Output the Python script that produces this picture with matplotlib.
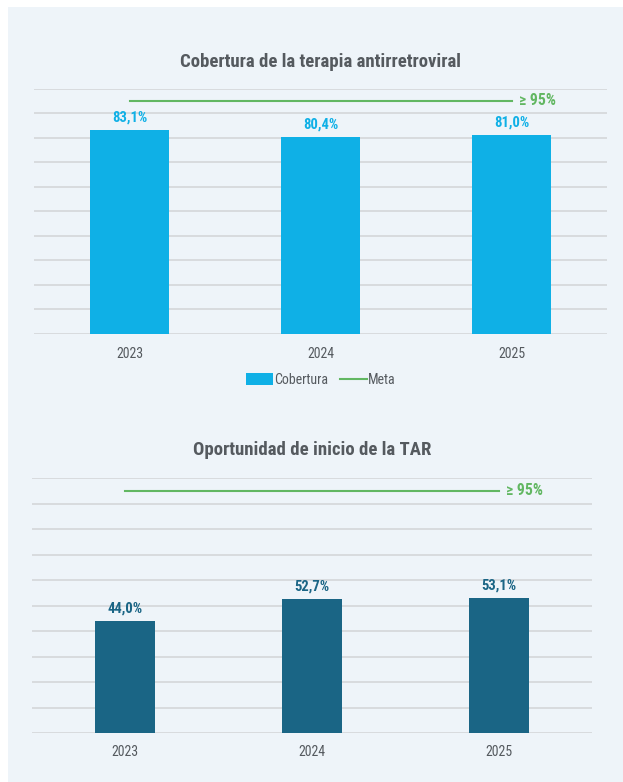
import matplotlib
matplotlib.use("Agg")
import matplotlib.pyplot as plt
from matplotlib import font_manager
from matplotlib.patches import Rectangle, Patch
from matplotlib.lines import Line2D

# data
years = ["2023", "2024", "2025"]
cobertura = [83.1, 80.4, 81.0]
oportunidad = [44.0, 52.7, 53.1]
meta = 95

title_top = "Cobertura de la terapia antirretroviral"
title_bottom = "Oportunidad de inicio de la TAR"

# colours
bg = "#eef4f9"
grid_c = "#d6d9dc"
cyan = "#0fb0e6"
dark = "#1a6585"
green = "#62b762"
text_c = "#555a5f"

# pick a condensed font if one is around
names = {f.name for f in font_manager.fontManager.ttflist}
cond = [n for n in ["Liberation Sans Narrow", "DejaVu Sans Condensed", "Roboto Condensed",
                    "Open Sans Condensed", "Noto Sans Condensed"] if n in names]
family = cond + ["Roboto", "DejaVu Sans"]
plt.rcParams["font.family"] = family

W, H = 623, 782
fig = plt.figure(figsize=(W / 100, H / 100), dpi=100)
fig.patch.set_facecolor("white")
fig.add_artist(Rectangle((8 / W, 0), 1, 1 - 7 / H, transform=fig.transFigure,
                         facecolor=bg, edgecolor="none", zorder=0))


def px_axes(left, right, top, bottom):
    return fig.add_axes([left / W, 1 - bottom / H, (right - left) / W, (bottom - top) / H])


def draw_chart(ax, values, color, label_color, width):
    ax.set_facecolor("none")
    x = range(len(years))
    ax.bar(x, values, width=width, color=color, zorder=3)
    ax.plot([0, len(years) - 1], [meta, meta], color=green, lw=1.5, zorder=3)
    ax.text(len(years) - 1 + 0.04, meta, f"\u2265 {meta}%", color=green, fontsize=11.3,
            fontweight="bold", va="center", ha="left")
    for i, v in enumerate(values):
        ax.annotate(f"{v:.1f}".replace(".", ",") + "%", (i, v), xytext=(0, 4),
                    textcoords="offset points", ha="center", va="bottom",
                    color=label_color, fontsize=10.5, fontweight="bold")
    ax.set_xlim(-0.5, len(years) - 0.5)
    ax.set_ylim(0, 100)
    ax.set_yticks(range(0, 101, 10))
    ax.set_yticklabels([])
    ax.set_xticks(list(x))
    ax.set_xticklabels(years, color=text_c, fontsize=10)
    ax.tick_params(axis="both", length=0)
    ax.tick_params(axis="x", pad=9)
    ax.yaxis.grid(True, color=grid_c, lw=1.3, zorder=0)
    for s in ax.spines.values():
        s.set_visible(False)


ax1 = px_axes(34, 607, 88.5, 334)
draw_chart(ax1, cobertura, cyan, cyan, 0.41)
fig.text(320 / W, 1 - 62 / H, title_top, ha="center", va="center",
         fontsize=13.5, fontweight="bold", color=text_c)
handles = [Patch(facecolor=cyan, edgecolor="none"), Line2D([], [], color=green, lw=1.5)]
fig.legend(handles, ["Cobertura", "Meta"], loc="center", bbox_to_anchor=(321 / W, 1 - 380 / H),
           ncol=2, frameon=False, fontsize=10, labelcolor=text_c, handlelength=1.9,
           handleheight=0.9, handletextpad=0.1, columnspacing=0.9)

ax2 = px_axes(32, 592, 478, 733)
draw_chart(ax2, oportunidad, dark, dark, 0.32)
fig.text(312 / W, 1 - 450 / H, title_bottom, ha="center", va="center",
         fontsize=13.5, fontweight="bold", color=text_c)

fig.savefig("out.png", dpi=100, facecolor=fig.get_facecolor())
